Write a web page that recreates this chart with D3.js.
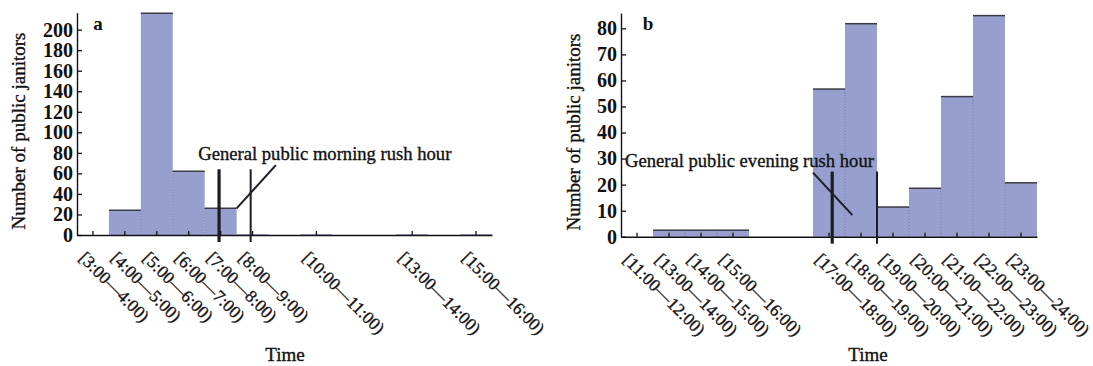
<!DOCTYPE html>
<html>
<head>
<meta charset="utf-8">
<script src="https://cdn.jsdelivr.net/npm/d3@7"></script>
<style>
  body { margin: 0; background: #fff; }
  svg text { font-family: "Liberation Serif", "Times New Roman", serif; fill: #111; }
  svg text.heavy { stroke: #111; stroke-width: 0.35px; }
</style>
</head>
<body>
<div id="chart"></div>
<script>
// panel a : morning
var slotsA = ["[3:00—4:00)", "[4:00—5:00)", "[5:00—6:00)", "[6:00—7:00)", "[7:00—8:00)",
  "[8:00—9:00)", "[9:00—10:00)", "[10:00—11:00)", "[11:00—12:00)", "[12:00—13:00)",
  "[13:00—14:00)", "[14:00—15:00)", "[15:00—16:00)"];
var categoriesA = ["[3:00—4:00)", "[4:00—5:00)", "[5:00—6:00)", "[6:00—7:00)", "[7:00—8:00)",
  "[8:00—9:00)", "[10:00—11:00)", "[13:00—14:00)", "[15:00—16:00)"];
var valuesA = [0, 24, 216, 62, 26, 0.8, 0.8, 0.8, 0.8];
var yTicksA = [0, 20, 40, 60, 80, 100, 120, 140, 160, 180, 200];

// panel b : evening (two unlabeled gap slots in the original axis)
var slotsB = ["[11:00—12:00)", "[13:00—14:00)", "[14:00—15:00)", "[15:00—16:00)", "gap1", "gap2",
  "[17:00—18:00)", "[18:00—19:00)", "[19:00—20:00)", "[20:00—21:00)", "[21:00—22:00)",
  "[22:00—23:00)", "[23:00—24:00)"];
var categoriesB = ["[11:00—12:00)", "[13:00—14:00)", "[14:00—15:00)", "[15:00—16:00)",
  "[17:00—18:00)", "[18:00—19:00)", "[19:00—20:00)", "[20:00—21:00)", "[21:00—22:00)",
  "[22:00—23:00)", "[23:00—24:00)"];
var valuesB = [0, 2.5, 2.5, 2.5, 56.7, 81.8, 11.4, 18.6, 53.8, 84.9, 20.7];
var yTicksB = [0, 10, 20, 30, 40, 50, 60, 70, 80];

var W = 1093, H = 366;
var barFill = "#979fcf";

var svg = d3.select("#chart").append("svg")
  .attr("width", W).attr("height", H);

function panel(cfg) {
  var x = d3.scaleBand().domain(cfg.slots).range([cfg.left, cfg.left + cfg.width]);
  var y = d3.scaleLinear().domain([0, cfg.ymax]).range([cfg.bottom, cfg.top]);
  var bw = x.bandwidth();
  var g = svg.append("g");
  var data = cfg.cats.map(function (c, i) { return { cat: c, v: cfg.vals[i] }; });

  // bars
  g.selectAll(".bar").data(data).enter().append("rect")
    .attr("class", "bar")
    .attr("x", function (d) { return x(d.cat); })
    .attr("width", bw)
    .attr("y", function (d) { return y(d.v); })
    .attr("height", function (d) { return y(0) - y(d.v); })
    .style("fill", barFill);

  // dotted dividers between neighbouring bars
  var pairs = [];
  data.forEach(function (d, i) {
    var nxt = data[i + 1];
    if (nxt && d.v > 1 && nxt.v > 1 && x(nxt.cat) - x(d.cat) < bw + 0.5) {
      pairs.push({ cat: nxt.cat, v: Math.min(d.v, nxt.v) });
    }
  });
  g.selectAll(".div").data(pairs).enter().append("line")
    .attr("x1", function (d) { return x(d.cat); })
    .attr("x2", function (d) { return x(d.cat); })
    .attr("y1", function (d) { return y(d.v); })
    .attr("y2", y(0))
    .style("stroke", "#6d74a8").style("stroke-width", 1)
    .style("stroke-dasharray", "1,2");

  // dark top edges
  g.selectAll(".top").data(data.filter(function (d) { return d.v >= 1; })).enter().append("line")
    .attr("x1", function (d) { return x(d.cat); })
    .attr("x2", function (d) { return x(d.cat) + bw; })
    .attr("y1", function (d) { return y(d.v); })
    .attr("y2", function (d) { return y(d.v); })
    .style("stroke", "#3a3a44").style("stroke-width", 1.5);

  // axes
  var yAxis = d3.axisLeft(y).tickValues(cfg.yticks).tickSizeInner(-5).tickSizeOuter(0).tickPadding(4);
  var gy = g.append("g").attr("transform", "translate(" + cfg.left + ",0)").call(yAxis);
  gy.selectAll("text").style("font-size", "20px").style("font-weight", "bold");

  var xAxis = d3.axisBottom(x).tickValues(cfg.cats).tickSizeInner(-4).tickSizeOuter(0).tickFormat("");
  var gx = g.append("g").attr("transform", "translate(0," + cfg.bottom + ")").call(xAxis);
  [gx, gy].forEach(function (a) {
    a.select(".domain").style("stroke", "#111").style("stroke-width", 1.4);
    a.selectAll(".tick line").style("stroke", "#111").style("stroke-width", 1.3);
  });

  // rotated tick labels
  g.selectAll(".xl").data(cfg.cats).enter().append("text")
    .attr("class", "xl heavy")
    .attr("transform", function (d) {
      return "translate(" + (x(d) + bw / 2 - 15) + "," + (cfg.bottom + 24) + ") rotate(45)";
    })
    .style("font-size", "17.4px")
    .text(function (d) { return d; });

  // rush hour marker lines
  cfg.rush.forEach(function (r) {
    g.append("line")
      .attr("x1", x(r[0]) + r[1] * bw).attr("x2", x(r[0]) + r[1] * bw)
      .attr("y1", y(cfg.rushTop)).attr("y2", cfg.bottom + 7)
      .style("stroke", "#1c1c26").style("stroke-width", r[2]);
  });
  var l = cfg.leader;
  g.append("line")
    .attr("x1", x(l[0][0]) + l[0][1] * bw).attr("y1", y(l[0][2]))
    .attr("x2", x(l[1][0]) + l[1][1] * bw).attr("y2", y(l[1][2]))
    .style("stroke", "#1c1c26").style("stroke-width", 2);

  g.append("text")
    .attr("class", "heavy")
    .attr("x", x(cfg.note[1]) + cfg.note[2] * bw)
    .attr("y", y(cfg.note[3]))
    .style("font-size", "18.6px")
    .text(cfg.note[0]);

  // panel letter, axis titles
  g.append("text").attr("x", cfg.left + cfg.letterDx).attr("y", 30)
    .attr("text-anchor", "middle").style("font-size", "19px").style("font-weight", "bold")
    .text(cfg.letter);
  g.append("text")
    .attr("class", "heavy")
    .attr("transform", "translate(" + cfg.titleX + "," + cfg.titleY + ") rotate(-90)")
    .attr("text-anchor", "middle").style("font-size", "19px")
    .text("Number of public janitors");
  g.append("text").attr("x", cfg.timeX).attr("y", 361)
    .attr("class", "heavy")
    .attr("text-anchor", "middle").style("font-size", "19px")
    .text("Time");
}

panel({
  slots: slotsA, cats: categoriesA, vals: valuesA, yticks: yTicksA, ymax: 216.5,
  left: 77, width: 415, top: 12.7, bottom: 235,
  rush: [["[7:00—8:00)", 0.45, 3.2], ["[8:00—9:00)", 0.44, 2]], rushTop: 64,
  leader: [["[8:00—9:00)", 0, 26], ["[9:00—10:00)", 0.23, 68]],
  note: ["General public morning rush hour", "[6:00—7:00)", 0.8, 73],
  letter: "a", letterDx: 21, titleX: 25, titleY: 131, timeX: 285
});

panel({
  slots: slotsB, cats: categoriesB, vals: valuesB, yticks: yTicksB, ymax: 85.9,
  left: 621, width: 416, top: 13, bottom: 236.7,
  rush: [["[17:00—18:00)", 0.6, 3.2], ["[19:00—20:00)", 0, 2]], rushTop: 25,
  leader: [["[17:00—18:00)", 0, 24.6], ["[18:00—19:00)", 0.23, 8.3]],
  note: ["General public evening rush hour", "[11:00—12:00)", 0.125, 26.9],
  letter: "b", letterDx: 27, titleX: 580, titleY: 132, timeX: 868
});
</script>
</body>
</html>
